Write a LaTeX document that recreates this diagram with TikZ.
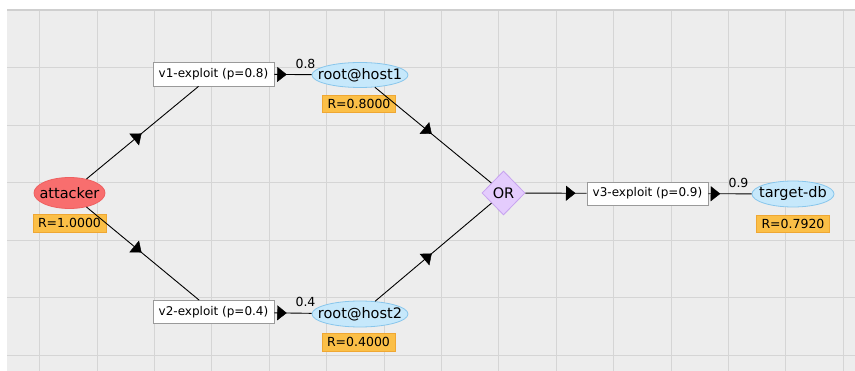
\documentclass[tikz,border=0pt]{standalone}
\usepackage{fontspec}
\setmainfont{DejaVu Sans}
\usetikzlibrary{shapes.geometric,arrows.meta,decorations.markings}
\definecolor{bgc}{HTML}{EDEDED}
\definecolor{gridc}{HTML}{D5D5D5}
\definecolor{topc}{HTML}{CFCFCF}
\definecolor{hostfill}{HTML}{C6E8FB}
\definecolor{hostdraw}{HTML}{88C6EC}
\definecolor{attfill}{HTML}{F86E6E}
\definecolor{attdraw}{HTML}{EE6060}
\definecolor{rfill}{HTML}{FBBF47}
\definecolor{rdraw}{HTML}{EFA733}
\definecolor{orfill}{HTML}{E4CCFD}
\definecolor{ordraw}{HTML}{C7A2F0}
\definecolor{boxdraw}{HTML}{9A9A9A}
\tikzset{
  gridline/.style={draw=gridc, line width=0.8pt},
  bigtext/.style={font=\fontsize{14.5}{16}\selectfont},
  hostnode/.style={ellipse, draw=hostdraw, fill=hostfill, line width=0.8pt, inner sep=0pt},
  attnode/.style={ellipse, draw=attdraw, fill=attfill, line width=0.8pt, inner sep=0pt},
  rlabel/.style={rectangle, draw=rdraw, fill=rfill, line width=0.6pt, inner sep=0pt,
     minimum width=73pt, minimum height=17pt, font=\fontsize{12.5}{14}\selectfont},
  expbox/.style={rectangle, draw=boxdraw, fill=white, line width=0.7pt, inner sep=0pt,
     minimum width=121pt, minimum height=23pt, font=\fontsize{12}{13}\selectfont},
  ornode/.style={diamond, draw=ordraw, fill=orfill, line width=0.8pt, inner sep=0pt,
     minimum width=43pt, minimum height=44pt, font=\fontsize{14.5}{16}\selectfont},
  elab/.style={inner sep=0pt, font=\fontsize{12.5}{14}\selectfont},
  conn/.style={draw=black, line width=0.9pt},
  midarr/.style={postaction={decorate}, decoration={markings,
     mark=at position 0.5 with {\arrow[black]{Triangle[length=9.5pt,width=15pt]}}}}
}
\begin{document}
\begin{tikzpicture}[x=1pt,y=-1pt]
\useasboundingbox (0,0) rectangle (855,371);
\fill[white] (0,0) rectangle (855,371);
\fill[bgc] (7,10) rectangle (855,371);
\foreach \i in {0,...,14} \draw[gridline] ({39.5+57.4*\i},10) -- ({39.5+57.4*\i},371);
\foreach \j in {1,...,6} \draw[gridline] (7,{10+57.5*\j}) -- (855,{10+57.5*\j});
\draw[draw=topc, line width=1.2pt] (7,10) -- (855,10);

% nodes
\node[attnode, minimum width=71pt, minimum height=31pt] (att) at (69.5,193) {};
\node[bigtext] (att-t) at (att.center) {attacker};
\node[rlabel, minimum height=18pt] (ratt) at (69.5,223) {R=1.0000};
\node[expbox, minimum height=24pt] (v1) at (213.5,74) {v1-exploit (p=0.8)};
\node[hostnode, minimum width=96pt, minimum height=25pt] (h1) at (360,75) {};
\node[bigtext] (h1-t) at (h1.center) {root@host1};
\node[rlabel] (rh1) at (359,104) {R=0.8000};
\node[expbox] (v2) at (213.5,312) {v2-exploit (p=0.4)};
\node[hostnode, minimum width=96pt, minimum height=26pt] (h2) at (360,314) {};
\node[bigtext] (h2-t) at (h2.center) {root@host2};
\node[rlabel, minimum height=18pt] (rh2) at (358.5,342) {R=0.4000};
\node[ornode] (or) at (503.5,193) {OR};
\node[expbox] (v3) at (647.5,193.5) {v3-exploit (p=0.9)};
\node[hostnode, minimum width=82pt, minimum height=26pt] (tdb) at (793,194) {};
\node[bigtext] (tdb-t) at (tdb.center) {target-db};
\node[rlabel, minimum height=17pt] (rt) at (793,224) {R=0.7920};

% edge labels
\node[elab] (l1) at (305.5,64) {0.8};
\node[elab] (l2) at (305.5,302) {0.4};
\node[elab] (l3) at (738.5,183) {0.9};

% connectors
\draw[conn] (att) -- (v1);
\draw[conn] (att) -- (v2);
\draw[conn] (v1) -- (h1);
\draw[conn] (v2) -- (h2);
\draw[conn] (h1) -- (or);
\draw[conn] (h2) -- (or);
\draw[conn] (or) -- (v3);
\draw[conn] (v3) -- (tdb);

% arrowheads at centre-to-centre midpoints
\path[midarr] (att.center) -- (v1.center);
\path[midarr] (att.center) -- (v2.center);
\path[midarr] (v1.center) -- (h1.center);
\path[midarr] (v2.center) -- (h2.center);
\path[midarr] (h1.center) -- (or.center);
\path[midarr] (h2.center) -- (or.center);
\path[midarr] (or.center) -- (v3.center);
\path[midarr] (v3.center) -- (tdb.center);
\end{tikzpicture}
\end{document}
